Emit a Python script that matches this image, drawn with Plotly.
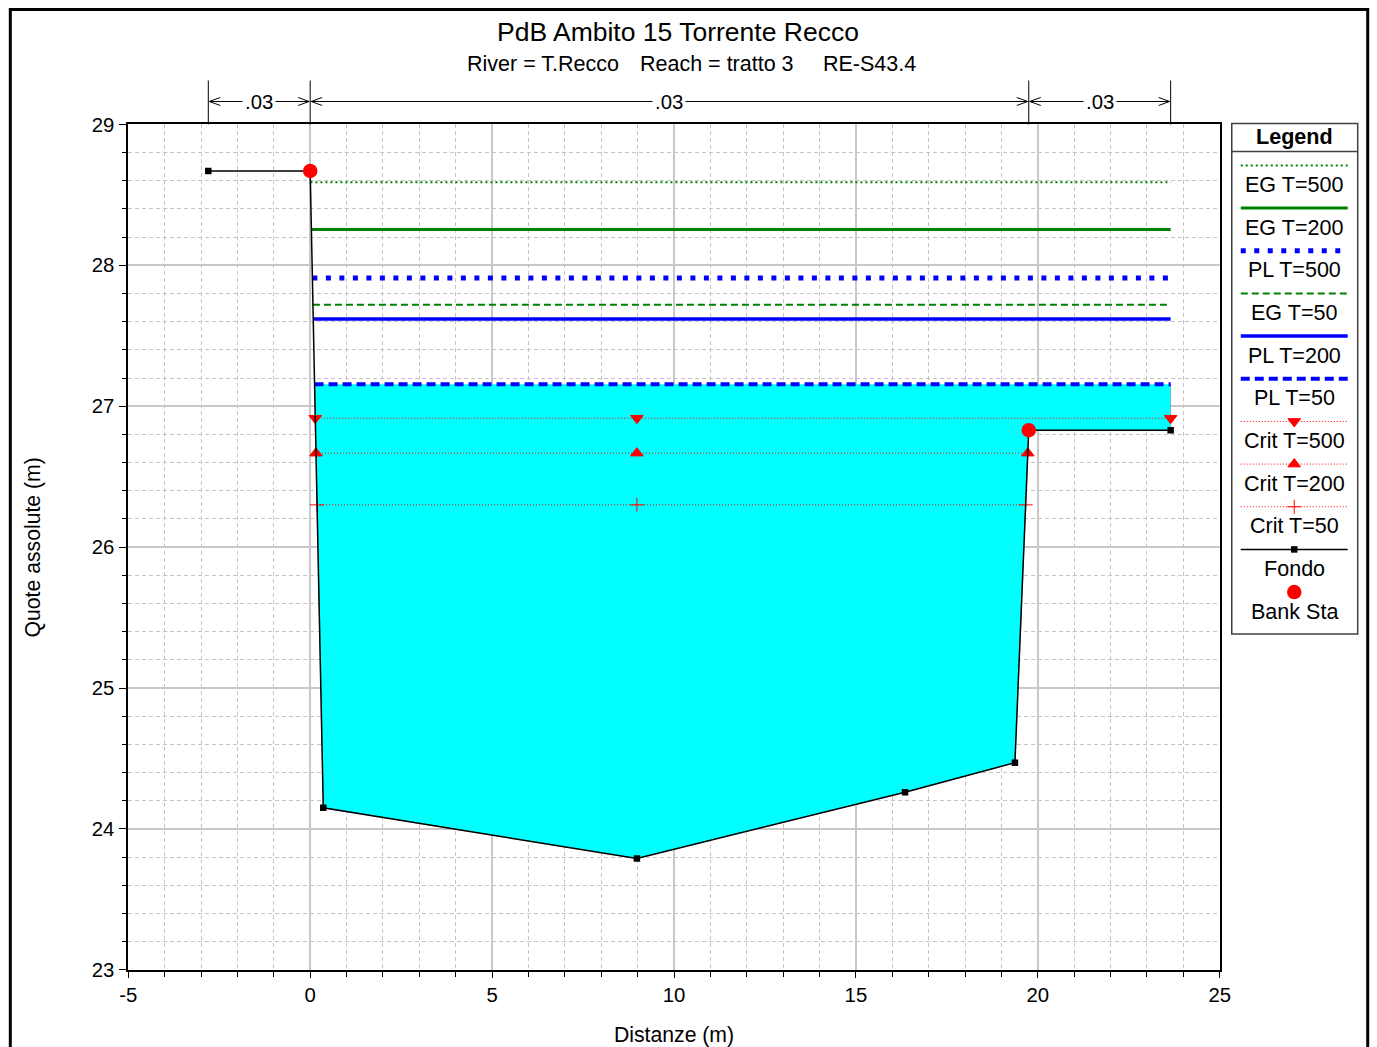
import plotly.graph_objects as go

# ---------------- data ----------------
title_main = "PdB Ambito 15 Torrente Recco"
subtitle_parts = ["River = T.Recco", "Reach = tratto 3", "RE-S43.4"]

ground_sta = [-2.8, 0.0, 0.36, 8.98, 16.35, 19.37, 19.75, 23.65]
ground_elv = [28.67, 28.67, 24.15, 23.79, 24.26, 24.47, 26.83, 26.83]
bank_sta = [0.0, 19.75]
bank_elv = [28.67, 26.83]

mann_n = [".03", ".03", ".03"]

ws_names = ["EG T=500", "EG T=200", "PL T=500", "EG T=50", "PL T=200", "PL T=50"]
ws_levels = [28.59, 28.255, 27.91, 27.72, 27.62, 27.156]

crit_names = ["Crit T=500", "Crit T=200", "Crit T=50"]
crit_levels = [26.915, 26.667, 26.30]

x_range = [-5, 25]
y_range = [23, 29]
x_ticks = [-5, 0, 5, 10, 15, 20, 25]
x_ticklabels = ["-5", "0", "5", "10", "15", "20", "25"]
y_ticks = [23, 24, 25, 26, 27, 28, 29]

# ---------------- layout geometry ----------------
SX, BX = 0.986, 0.8          # observed page-to-picture mapping (x)
SY, BY = 0.980, 2.6          # observed page-to-picture mapping (y)
OFF = 8                      # default page margin of the html body
W, H = 1385, 1058
PX0, PX1, PY0, PY1 = 128, 1220, 124, 970
FONT = "Arial, Liberation Sans, sans-serif"
GREEN = "#008000"
BLUE = "#0000ff"
RED = "#ff0000"
S = (SX + SY) / 2


def fs(v):
    return v / S


ws_styles = [
    dict(color=GREEN, width=2, dash="2px,3px"),
    dict(color=GREEN, width=3, dash="solid"),
    dict(color=BLUE, width=5, dash="5px,8.5px"),
    dict(color=GREEN, width=2, dash="7px,4px"),
    dict(color=BLUE, width=3.5, dash="solid"),
    dict(color=BLUE, width=4, dash="9px,5px"),
]
crit_line = dict(color=RED, width=1, dash="1px,2px")
crit_symbols = ["triangle-down", "triangle-up", "cross-thin"]
crit_sizes = [11, 11, 10]


def pxp(x):
    return ((x - BX) / SX - OFF) / W


def pyp(y):
    return 1 - ((y - BY) / SY - OFF) / H


def sx(s):
    return PX0 + (s - x_range[0]) / (x_range[1] - x_range[0]) * (PX1 - PX0)


def crossings(level):
    out = []
    for i in range(len(ground_sta) - 1):
        za, zb = ground_elv[i], ground_elv[i + 1]
        if (za - level) * (zb - level) < 0:
            xa, xb = ground_sta[i], ground_sta[i + 1]
            out.append(xa + (level - za) * (xb - xa) / (zb - za))
    return out


def extent(level):
    c = crossings(level)
    xl = c[0]
    xr = c[1] if len(c) > 1 else ground_sta[-1]
    return xl, xr


fig = go.Figure()

# water fill for the lowest profile
lvl = ws_levels[-1]
xl, xr = extent(lvl)
fx, fy = [xl], [lvl]
for s, z in zip(ground_sta, ground_elv):
    if xl < s < xr:
        fx.append(s)
        fy.append(z)
if xr == ground_sta[-1]:
    fx.append(xr)
    fy.append(ground_elv[-1])
fx.append(xr)
fy.append(lvl)
fig.add_trace(go.Scatter(x=fx, y=fy, fill="toself", fillcolor="#00ffff",
                         line=dict(width=0.5, color="#7a7a7a"), mode="lines",
                         hoverinfo="skip", showlegend=False))

# crit lines + markers
thalweg = ground_sta[ground_elv.index(min(ground_elv))]
for name, lv, sym, msz in zip(crit_names, crit_levels, crit_symbols, crit_sizes):
    a, b = extent(lv)
    fig.add_trace(go.Scatter(x=[a, b], y=[lv, lv], mode="lines", line=crit_line,
                             showlegend=False, name=name))
    mk = dict(symbol=sym, size=msz, color=RED, line=dict(color=RED, width=1))
    fig.add_trace(go.Scatter(x=[a, thalweg, b], y=[lv, lv, lv], mode="markers",
                             marker=mk, showlegend=False, name=name))

# water surface lines
for name, lv, st in zip(ws_names, ws_levels, ws_styles):
    a, b = extent(lv)
    fig.add_trace(go.Scatter(x=[a, b], y=[lv, lv], mode="lines", line=st,
                             showlegend=False, name=name))

# ground
fig.add_trace(go.Scatter(x=ground_sta, y=ground_elv, mode="lines+markers",
                         line=dict(color="black", width=1.5),
                         marker=dict(symbol="square", size=6.5, color="black"),
                         showlegend=False, name="Fondo"))
# banks
fig.add_trace(go.Scatter(x=bank_sta, y=bank_elv, mode="markers",
                         marker=dict(symbol="circle", size=14.5, color=RED),
                         showlegend=False, name="Bank Sta"))

# ---------------- custom legend (overlay pixel axis) ----------------
LX0, LX1 = 1241, 1348
LXC = (LX0 + LX1) / 2
row0, drow = 165, 42.7
leg_names = ws_names + crit_names + ["Fondo", "Bank Sta"]
for i, name in enumerate(leg_names):
    yy = row0 + drow * i
    if i < len(ws_names):
        fig.add_trace(go.Scatter(x=[LX0, LX1], y=[yy, yy], mode="lines",
                                 line=ws_styles[i], xaxis="x2", yaxis="y2",
                                 showlegend=False, hoverinfo="skip"))
    elif i < len(ws_names) + len(crit_names):
        k = i - len(ws_names)
        fig.add_trace(go.Scatter(x=[LX0, LX1], y=[yy, yy], mode="lines",
                                 line=crit_line, xaxis="x2", yaxis="y2",
                                 showlegend=False, hoverinfo="skip"))
        fig.add_trace(go.Scatter(x=[LXC], y=[yy], mode="markers",
                                 marker=dict(symbol=crit_symbols[k], size=crit_sizes[k],
                                             color=RED, line=dict(color=RED, width=1)),
                                 xaxis="x2", yaxis="y2", showlegend=False, hoverinfo="skip"))
    elif name == "Fondo":
        fig.add_trace(go.Scatter(x=[LX0, LX1], y=[yy, yy], mode="lines",
                                 line=dict(color="black", width=1.5), xaxis="x2", yaxis="y2",
                                 showlegend=False, hoverinfo="skip"))
        fig.add_trace(go.Scatter(x=[LXC], y=[yy], mode="markers",
                                 marker=dict(symbol="square", size=6.5, color="black"),
                                 xaxis="x2", yaxis="y2", showlegend=False, hoverinfo="skip"))
    else:
        fig.add_trace(go.Scatter(x=[LXC], y=[yy], mode="markers",
                                 marker=dict(symbol="circle", size=14.5, color=RED),
                                 xaxis="x2", yaxis="y2", showlegend=False, hoverinfo="skip"))

annotations = []
shapes = []
for i, name in enumerate(leg_names):
    yy = row0 + drow * i + 19
    annotations.append(dict(x=pxp(LXC), y=pyp(yy), xref="paper", yref="paper",
                            text=name, showarrow=False, xanchor="center", yanchor="middle",
                            font=dict(size=fs(21.2), color="black", family=FONT)))
annotations.append(dict(x=pxp(1295), y=pyp(136), xref="paper", yref="paper",
                        text="<b>Legend</b>", showarrow=False, xanchor="center",
                        yanchor="middle", font=dict(size=fs(21.2), color="black", family=FONT)))
shapes.append(dict(type="rect", xref="paper", yref="paper", x0=pxp(1232), x1=pxp(1358),
                   y0=pyp(634), y1=pyp(123), line=dict(color="#404040", width=1.5)))
shapes.append(dict(type="line", xref="paper", yref="paper", x0=pxp(1232), x1=pxp(1358),
                   y0=pyp(151), y1=pyp(151), line=dict(color="#404040", width=1.5)))

# outer frame (left, top, right sides; bottom is cut by the page edge)
frame_path = "M {},{} L {},{} L {},{} L {},{}".format(
    pxp(10), 0, pxp(10), pyp(9), pxp(1368), pyp(9), pxp(1368), 0)
shapes.append(dict(type="path", xref="paper", yref="paper", path=frame_path,
                   line=dict(color="black", width=3)))

# titles
annotations.append(dict(x=pxp(678), y=pyp(31), xref="paper", yref="paper", text=title_main,
                        showarrow=False, xanchor="center", yanchor="middle",
                        font=dict(size=26.5, color="black", family=FONT)))
for txt, xpos in zip(subtitle_parts, [465, 638, 821]):
    annotations.append(dict(x=pxp(xpos), y=pyp(63), xref="paper", yref="paper", text=txt,
                            showarrow=False, xanchor="left", yanchor="middle",
                            font=dict(size=21.5, color="black", family=FONT)))
annotations.append(dict(x=pxp(33), y=pyp(547), xref="paper", yref="paper",
                        text="Quote assolute (m)", showarrow=False, textangle=-90,
                        xanchor="center", yanchor="middle",
                        font=dict(size=21.2, color="black", family=FONT)))
annotations.append(dict(x=pxp(674), y=pyp(1035), xref="paper", yref="paper",
                        text="Distanze (m)", showarrow=False, xanchor="center",
                        yanchor="middle", font=dict(size=21.2, color="black", family=FONT)))

# Manning's n dimension lines
n_bounds = [ground_sta[0], bank_sta[0], bank_sta[1], ground_sta[-1]]
YN = 101
for s in n_bounds:
    p = sx(s)
    shapes.append(dict(type="line", xref="paper", yref="paper", x0=pxp(p), x1=pxp(p),
                       y0=pyp(PY0), y1=pyp(80), line=dict(color="black", width=1)))
for i, nv in enumerate(mann_n):
    pa, pb = sx(n_bounds[i]), sx(n_bounds[i + 1])
    shapes.append(dict(type="line", xref="paper", yref="paper", x0=pxp(pa + 1), x1=pxp(pb - 1),
                       y0=pyp(YN), y1=pyp(YN), line=dict(color="black", width=1)))
    for tip, d in ((pa + 1, 1), (pb - 1, -1)):
        path = "M {},{} L {},{} L {},{}".format(
            pxp(tip + d * 11), pyp(YN - 4), pxp(tip), pyp(YN), pxp(tip + d * 11), pyp(YN + 4))
        shapes.append(dict(type="path", xref="paper", yref="paper", path=path,
                           line=dict(color="black", width=1)))
    annotations.append(dict(x=pxp((pa + pb) / 2), y=pyp(YN + 1), xref="paper", yref="paper",
                            text=nv, showarrow=False, xanchor="center", yanchor="middle",
                            bgcolor="white", borderpad=2,
                            font=dict(size=fs(20), color="black", family=FONT)))

fig.update_layout(
    width=W, height=H,
    margin=dict(l=0, r=0, t=0, b=0),
    paper_bgcolor="white",
    plot_bgcolor="rgba(0,0,0,0)",
    showlegend=False,
    font=dict(family=FONT, color="black"),
    annotations=annotations,
    shapes=shapes,
    xaxis=dict(domain=[pxp(PX0), pxp(PX1)], range=x_range, tickvals=x_ticks,
               ticktext=x_ticklabels,
               showline=True, linecolor="black", linewidth=1.5, mirror=True,
               ticks="outside", ticklen=6, tickcolor="black", tickwidth=1,
               tickfont=dict(size=fs(20), color="black", family=FONT),
               showgrid=True, gridcolor="#c8c8c8", gridwidth=1.5, zeroline=False,
               minor=dict(dtick=1, showgrid=True, gridcolor="#c4c4c4", griddash="4px,3px",
                          gridwidth=1, ticks="outside", ticklen=5, tickcolor="black"),
               anchor="y"),
    yaxis=dict(domain=[pyp(PY1), pyp(PY0)], range=y_range, tickvals=y_ticks,
               showline=True, linecolor="black", linewidth=1.5, mirror=True,
               ticks="outside", ticklen=8, tickcolor="black", tickwidth=1,
               tickfont=dict(size=fs(20), color="black", family=FONT),
               showgrid=True, gridcolor="#c8c8c8", gridwidth=1.5, zeroline=False,
               minor=dict(dtick=0.2, showgrid=True, gridcolor="#c4c4c4", griddash="4px,3px",
                          gridwidth=1, ticks="outside", ticklen=5, tickcolor="black"),
               anchor="x"),
    xaxis2=dict(domain=[0, 1], range=[BX + SX * OFF, BX + SX * (W + OFF)], visible=False,
                anchor="y2", fixedrange=True),
    yaxis2=dict(domain=[0, 1], range=[BY + SY * (H + OFF), BY + SY * OFF], visible=False,
                anchor="x2", fixedrange=True),
)

fig.write_html("out.html")
